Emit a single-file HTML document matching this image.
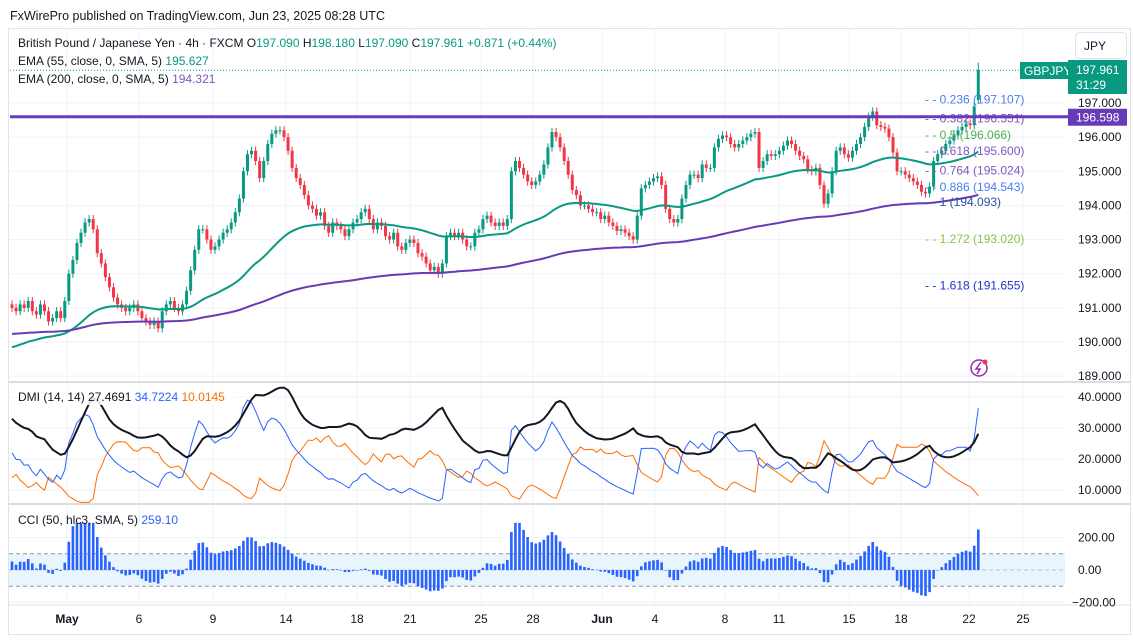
<!DOCTYPE html>
<html><head><meta charset="utf-8">
<style>
body{margin:0;background:#fff;font-family:"Liberation Sans",sans-serif;}
#wrap{position:relative;width:1133px;height:640px;overflow:hidden;background:#fff;}
svg text{font-family:"Liberation Sans",sans-serif;}
</style></head>
<body>
<div id="wrap">
<svg id="svg" width="1133" height="640" xmlns="http://www.w3.org/2000/svg"></svg>
</div>
<script>
// ---- data ----
const closes=[191.0,190.9,191.1,191.0,191.2,190.9,190.8,191.1,190.9,190.6,190.7,190.9,190.7,191.2,192.0,192.4,192.9,193.2,193.5,193.6,
193.3,192.6,192.3,191.9,191.6,191.3,191.1,191.0,190.9,191.0,191.1,190.9,190.7,190.6,190.5,190.6,190.4,190.9,191.1,191.2,
191.0,190.9,191.1,191.5,192.1,192.7,193.3,193.3,193.0,192.7,192.8,193.0,193.2,193.3,193.5,193.8,194.2,195.0,195.5,195.6,
195.3,194.8,195.3,195.8,196.1,196.2,196.2,196.0,195.6,195.1,194.8,194.6,194.3,194.0,193.9,193.7,193.8,193.4,193.2,193.5,
193.4,193.3,193.1,193.3,193.5,193.6,193.8,193.9,193.6,193.3,193.5,193.4,193.1,193.0,193.2,192.8,192.7,192.9,193.0,192.9,
192.6,192.5,192.3,192.1,192.2,192.0,192.3,193.1,193.2,193.1,193.2,193.0,192.8,192.8,193.2,193.3,193.6,193.7,193.5,193.4,
193.5,193.4,193.6,195.0,195.3,195.1,194.9,194.7,194.6,194.7,194.9,195.2,195.7,196.15,196.0,195.7,195.3,194.9,194.45,194.3,
194.0,194.0,193.9,193.8,193.8,193.6,193.7,193.5,193.4,193.25,193.3,193.2,193.1,193.0,193.7,194.5,194.6,194.7,194.8,194.85,
194.6,193.9,193.6,193.5,193.6,194.2,194.6,194.9,194.9,194.8,195.2,195.1,195.1,195.7,195.95,196.05,196.0,195.8,195.7,195.8,
195.9,196.0,196.1,196.15,195.1,195.3,195.5,195.45,195.5,195.6,195.75,195.9,195.8,195.6,195.45,195.35,195.05,195.0,195.1,194.6,
194.05,194.35,195.0,195.6,195.7,195.5,195.4,195.6,195.8,196.0,196.3,196.6,196.75,196.35,196.3,196.25,196.0,195.55,195.0,195.0,
194.9,194.8,194.7,194.6,194.4,194.35,194.55,195.3,195.5,195.6,195.8,195.9,196.05,196.2,196.3,196.4,196.35,196.9,197.961];
const firstOpen=191.1;
const lastHigh=198.18;
const priceTicks=[197,196,195,194,193,192,191,190,189];
const dmiTicks=[40,30,20,10];
const cciTicks=[200,0,-200];
const dateLabels=["May","6","9","14","18","21","25","28","Jun","4","8","11","15","18","22","25"];
const dateX=[67,139,213,286,357,410,481,533,602,655,725,779,849,901,969,1023];
const fibLevels=["0.236","0.382","0.5","0.618","0.764","0.886","1","1.272","1.618"];
const fibPrices=[197.107,196.551,196.066,195.600,195.024,194.543,194.093,193.020,191.655];
const fibColors=["#4a7cf7","#7e57c2","#4caf50","#7e57c2","#7e57c2","#4a7cf7","#2c4fa8","#8bc34a","#2233cc"];
const resistance=196.598;
const ema55Seed=189.8, ema200Seed=190.23;
const cciSeedPrice=190.75;

// ---- scales ----
const X0=12, DX=4.06;
const xs=i=>X0+i*DX;
const yP=p=>103+(197-p)*34.14;
const yD=v=>397+(40-v)*3.1;
const yC=v=>570-v*0.1625;
const svg=document.getElementById('svg');
const NS="http://www.w3.org/2000/svg";
function mk(tag,attrs,parent){const e=document.createElementNS(NS,tag);for(const k in attrs)e.setAttribute(k,attrs[k]);(parent||svg).appendChild(e);return e;}
function txt(s,x,y,attrs,parent){const t=mk('text',Object.assign({x:x,y:y,'font-size':12,fill:'#131722'},attrs),parent);t.textContent=s;return t;}

let g=mk('g',{});


txt("FxWirePro published on TradingView.com, Jun 23, 2025 08:28 UTC",10,20,{'font-size':12.5},g);
mk('rect',{x:8.5,y:28.5,width:1122,height:606,fill:'none',stroke:'#e0e3eb'},g);

const grid=mk('g',{stroke:'#f0f3fa','stroke-width':1});


dateX.forEach(x=>mk('line',{x1:x,x2:x,y1:29,y2:605},grid));
priceTicks.forEach(p=>mk('line',{x1:9,x2:1065,y1:yP(p),y2:yP(p)},grid));
dmiTicks.forEach(v=>mk('line',{x1:9,x2:1065,y1:yD(v),y2:yD(v)},grid));
cciTicks.forEach(v=>mk('line',{x1:9,x2:1065,y1:yC(v),y2:yC(v)},grid));
mk('line',{x1:9,x2:1131,y1:382,y2:382,stroke:'#d1d4dc','stroke-width':1.5});
mk('line',{x1:9,x2:1131,y1:504,y2:504,stroke:'#d1d4dc','stroke-width':1.5});
mk('line',{x1:9,x2:1131,y1:605,y2:605,stroke:'#e0e3eb'});

const opens=closes.map((c,i)=>i===0?firstOpen:(i===closes.length-1?197.09:closes[i-1]));
const highs=closes.map((c,i)=>i===closes.length-1?lastHigh:Math.max(c,opens[i])+0.12);
const lows=closes.map((c,i)=>Math.min(c,opens[i])-0.12);

function ema(seed,n){const k=2/(n+1);let e=seed;return closes.map(c=>(e=e+k*(c-e)));}
const e55=ema(ema55Seed,55), e200=ema(ema200Seed,200);

const cg=mk('g',{});


closes.forEach((c,i)=>{
  const o=opens[i],up=c>=o,col=up?'#089981':'#f23645',x=xs(i);
  mk('line',{x1:x,x2:x,y1:yP(highs[i]),y2:yP(lows[i]),stroke:col,'stroke-width':1},cg);
  const top=yP(Math.max(o,c)),h=Math.max(1,yP(Math.min(o,c))-top);
  const b=mk('rect',{x:x-1.5,y:top,width:3,height:h,fill:col},cg);
  
  
});
function path(vals,fy,attrs,name){const d=vals.map((v,i)=>(i?'L':'M')+xs(i).toFixed(1)+' '+fy(v).toFixed(1)).join('');const p=mk('path',Object.assign({d:d,fill:'none'},attrs));return p;}
path(e55,yP,{stroke:'#089981','stroke-width':2},'ema-55-line');
path(e200,yP,{stroke:'#673ab7','stroke-width':2},'ema-200-line');

const lc=closes[closes.length-1];
mk('line',{x1:10,x2:1065,y1:yP(lc),y2:yP(lc),stroke:'#089981','stroke-width':1,'stroke-dasharray':'1 2'});

const fg=mk('g',{'font-size':12});


fibLevels.forEach((l,i)=>{const y=yP(fibPrices[i])+4;
  const t=txt('- -  '+l+' ('+fibPrices[i].toFixed(3)+')',925,y,{fill:fibColors[i]},fg);
  
  });
const rl=mk('line',{x1:10,x2:1068,y1:yP(resistance),y2:yP(resistance),stroke:'#673ab7','stroke-width':3});



priceTicks.forEach(p=>{const t=txt(p.toFixed(3),1078,yP(p)+4,{'font-size':12});
  
  });
let jb=mk('rect',{x:1075.5,y:32.5,width:51,height:26,rx:4,fill:'#fff',stroke:'#e0e3eb'});


txt('JPY',1084,50,{'font-size':12});
mk('rect',{x:1020,y:62,width:48,height:17,fill:'#089981'});
txt('GBPJPY',1024,75,{'font-size':12,fill:'#fff'});
mk('rect',{x:1068,y:60,width:59,height:34,fill:'#089981'});
txt(lc.toFixed(3),1076,74,{'font-size':12,fill:'#fff'});
txt('31:29',1076,89,{'font-size':12,fill:'#fff'});
mk('rect',{x:1068,y:yP(resistance)-8,width:59,height:17,fill:'#673ab7'});
txt(resistance.toFixed(3),1076,yP(resistance)+5,{'font-size':12,fill:'#fff'});

const lg=mk('g',{'font-size':12});


let t1=txt('',18,47,{},lg);
t1.innerHTML='British Pound / Japanese Yen · 4h · FXCM  O<tspan fill="#089981">197.090</tspan>  H<tspan fill="#089981">198.180</tspan>  L<tspan fill="#089981">197.090</tspan>  C<tspan fill="#089981">197.961</tspan>  <tspan fill="#089981">+0.871 (+0.44%)</tspan>';
let t2=txt('',18,65,{},lg);t2.innerHTML='EMA (55, close, 0, SMA, 5)  <tspan fill="#089981">195.627</tspan>';
let t3=txt('',18,83,{},lg);t3.innerHTML='EMA (200, close, 0, SMA, 5)  <tspan fill="#7e57c2">194.321</tspan>';

mk('circle',{cx:979,cy:368,r:8,fill:'none',stroke:'#9c27b0','stroke-width':1.5});
mk('path',{d:'M981 362 L976 369 L980 369 L977 374',fill:'none',stroke:'#9c27b0','stroke-width':1.5});
mk('circle',{cx:985,cy:362,r:2.5,fill:'#f23645'});

// ---- DMI ----
const N=14;let trS=0,pS=0,mS=0,adx=33;const pdi=[],mdi=[],adxA=[];
closes.forEach((c,i)=>{
  if(i===0){pdi.push(22);mdi.push(14);adxA.push(33);trS=0.3*N;pS=0.066*N;mS=0.042*N;return;}
  const tr=Math.max(highs[i]-lows[i],Math.abs(highs[i]-closes[i-1]),Math.abs(lows[i]-closes[i-1]))+0.08;
  let up=highs[i]-highs[i-1],dn=lows[i-1]-lows[i];
  const pdm=(up>dn&&up>0)?up:0,mdm=(dn>up&&dn>0)?dn:0;
  trS=trS-trS/N+tr;pS=pS-pS/N+pdm;mS=mS-mS/N+mdm;
  const p=100*pS/trS,m=100*mS/trS,dx=100*Math.abs(p-m)/Math.max(p+m,1e-9);
  adx=(adx*(N-1)+dx)/N;
  pdi.push(p);mdi.push(m);adxA.push(adx);
});
const clampD=v=>Math.max(6,Math.min(43,v));
path(mdi.map(clampD),yD,{stroke:'#ff6d00','stroke-width':1},'dmi-minus-line');
path(pdi.map(clampD),yD,{stroke:'#2962ff','stroke-width':1},'dmi-plus-line');
path(adxA.map(clampD),yD,{stroke:'#131722','stroke-width':2},'adx-line');
mk('rect',{x:14,y:388,width:222,height:17,fill:'#fff',opacity:0.85});
let d1=txt('',18,401,{'font-size':12});
d1.innerHTML='DMI (14, 14)  27.4691  <tspan fill="#2962ff">34.7224</tspan>  <tspan fill="#ff6d00">10.0145</tspan>';
dmiTicks.forEach(v=>{const t=txt(v.toFixed(4),1078,yD(v)+4,{'font-size':12});
  
  });

// ---- CCI ----
mk('rect',{x:9,y:yC(100),width:1056,height:yC(-100)-yC(100),fill:'#e3f2fd',opacity:0.8});
[100,0,-100].forEach(v=>mk('line',{x1:9,x2:1065,y1:yC(v),y2:yC(v),stroke:'#787b86','stroke-dasharray':'4 3','stroke-width':1,opacity:v===0?0.4:0.8}));
const tp=closes.map((c,i)=>(highs[i]+lows[i]+c)/3);
const cci=tp.map((v,i)=>{const w=[];for(let j=i-49;j<=i;j++)w.push(j<0?cciSeedPrice:tp[j]);
  const m=w.reduce((a,b)=>a+b,0)/w.length;
  const md=Math.max(0.35,w.reduce((a,b)=>a+Math.abs(b-m),0)/w.length);return (v-m)/(0.015*md);});
const ccg=mk('g',{fill:'#2962ff'});


cci.forEach((v,i)=>{const vv=Math.max(-230,Math.min(290,v));const y0=yC(0),y1=yC(vv);
  const r=mk('rect',{x:xs(i)-1.3,y:Math.min(y0,y1),width:2.6,height:Math.max(0.5,Math.abs(y1-y0))},ccg);
  
  });
let c1=txt('',18,524,{'font-size':12});
c1.innerHTML='CCI (50, hlc3, SMA, 5)  <tspan fill="#2962ff">259.10</tspan>';
cciTicks.forEach(v=>{const t=txt(v===0?'0.00':v.toFixed(2).replace('-','−'),v<0?1072:1078,yC(v)+4,{'font-size':12});
  
  });

dateLabels.forEach((l,i)=>{const t=txt(l,dateX[i],623,{'font-size':12,'text-anchor':'middle','font-weight':(l==='May'||l==='Jun')?'bold':'normal'});
  
  });
</script>
</body></html>
